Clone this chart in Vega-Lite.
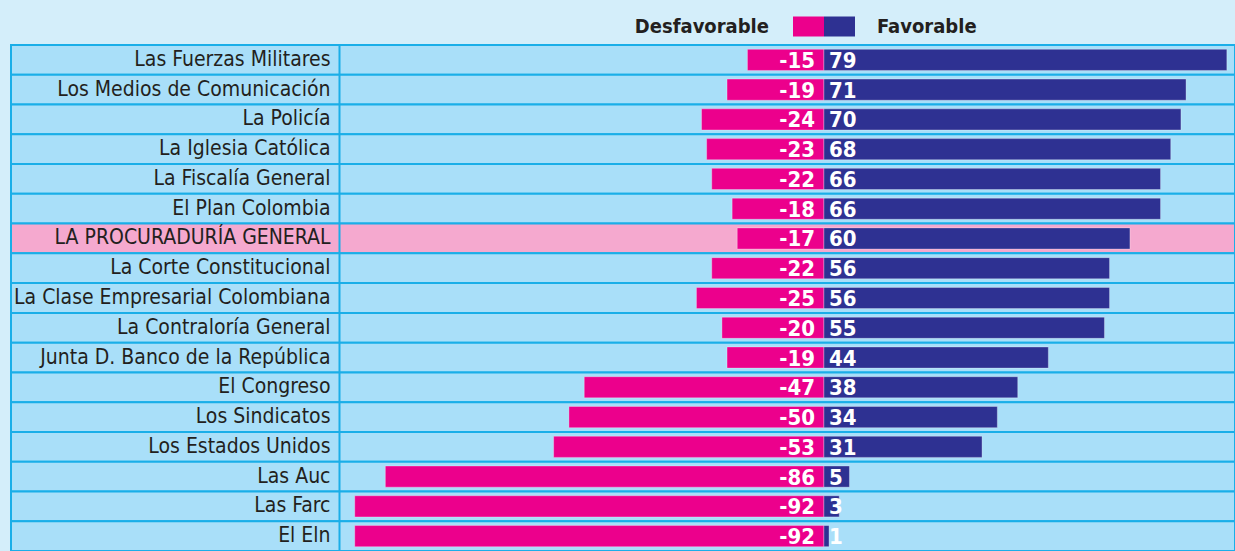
{
  "$schema": "https://vega.github.io/schema/vega-lite/v6.json",
  "autosize": {"type": "none"},
  "width": 1224,
  "height": 506,
  "padding": {"left": 11, "top": 45, "right": 0, "bottom": 0},
  "background": "#d4eefa",
  "config": {
    "view": {"stroke": null},
    "legend": {
      "title": null,
      "orient": "none",
      "direction": "horizontal",
      "padding": 0,
      "symbolType": "M-1,-0.645H1V0.645H-1Z",
      "symbolSize": 961,
      "symbolStrokeWidth": 0,
      "symbolOpacity": 1,
      "labelFont": "DejaVu Sans Condensed, sans-serif",
      "labelFontSize": 20,
      "labelFontWeight": "bold",
      "labelColor": "#231f20",
      "labelLimit": 0
    }
  },
  "data": {
    "values": [
      {"inst": "Las Fuerzas Militares", "Desfavorable": -15, "Favorable": 79},
      {"inst": "Los Medios de Comunicación", "Desfavorable": -19, "Favorable": 71},
      {"inst": "La Policía", "Desfavorable": -24, "Favorable": 70},
      {"inst": "La Iglesia Católica", "Desfavorable": -23, "Favorable": 68},
      {"inst": "La Fiscalía General", "Desfavorable": -22, "Favorable": 66},
      {"inst": "El Plan Colombia", "Desfavorable": -18, "Favorable": 66},
      {"inst": "LA PROCURADURÍA GENERAL", "Desfavorable": -17, "Favorable": 60},
      {"inst": "La Corte Constitucional", "Desfavorable": -22, "Favorable": 56},
      {"inst": "La Clase Empresarial Colombiana", "Desfavorable": -25, "Favorable": 56},
      {"inst": "La Contraloría General", "Desfavorable": -20, "Favorable": 55},
      {"inst": "Junta D. Banco de la República", "Desfavorable": -19, "Favorable": 44},
      {"inst": "El Congreso", "Desfavorable": -47, "Favorable": 38},
      {"inst": "Los Sindicatos", "Desfavorable": -50, "Favorable": 34},
      {"inst": "Los Estados Unidos", "Desfavorable": -53, "Favorable": 31},
      {"inst": "Las Auc", "Desfavorable": -86, "Favorable": 5},
      {"inst": "Las Farc", "Desfavorable": -92, "Favorable": 3},
      {"inst": "El Eln", "Desfavorable": -92, "Favorable": 1}
    ]
  },
  "encoding": {
    "y": {
      "field": "inst",
      "type": "nominal",
      "sort": null,
      "scale": {"paddingInner": 0, "paddingOuter": 0},
      "axis": {
        "title": null,
        "orient": "left",
        "offset": -328,
        "ticks": false,
        "grid": false,
        "domain": true,
        "domainColor": "#1aaee8",
        "domainWidth": 2,
        "labelPadding": 9,
        "labelFont": "DejaVu Sans Condensed, sans-serif",
        "labelFontSize": 21,
        "labelColor": "#231f20",
        "labelLimit": 0,
        "zindex": 1
      }
    }
  },
  "layer": [
    {
      "mark": {"type": "rect", "stroke": "#1aaee8", "strokeWidth": 2},
      "encoding": {
        "fill": {
          "condition": {"test": "datum.inst === 'LA PROCURADURÍA GENERAL'", "value": "#f5a9cf"},
          "value": "#a9dff9"
        }
      }
    },
    {
      "mark": {"type": "bar", "height": {"band": 0.71}, "stroke": "#ffffff", "strokeOpacity": 0.3, "strokeWidth": 1},
      "encoding": {
        "x": {
          "field": "Desfavorable",
          "type": "quantitative",
          "scale": {"domain": [-159.4, 80.6], "nice": false, "zero": false},
          "axis": null
        },
        "x2": {"datum": 0},
        "color": {
          "datum": "Desfavorable",
          "type": "nominal",
          "scale": {"domain": ["Desfavorable"], "range": ["#ec008c"]},
          "legend": {"legendX": 782, "legendY": -34, "labelAlign": "right", "labelOffset": -55}
        }
      }
    },
    {
      "mark": {"type": "bar", "height": {"band": 0.71}, "stroke": "#ffffff", "strokeOpacity": 0.3, "strokeWidth": 1},
      "encoding": {
        "x": {"field": "Favorable", "type": "quantitative", "axis": null},
        "x2": {"datum": 0},
        "fill": {
          "datum": "Favorable",
          "type": "nominal",
          "scale": {"domain": ["Favorable"], "range": ["#2e3192"]},
          "legend": {"legendX": 813, "legendY": -34, "labelAlign": "left", "labelOffset": 22}
        }
      }
    },
    {
      "mark": {"type": "text", "align": "right", "baseline": "middle", "dx": -9, "dy": 1, "font": "DejaVu Sans Condensed, sans-serif", "fontSize": 22, "fontWeight": "bold", "color": "#ffffff"},
      "encoding": {
        "x": {"datum": 0, "type": "quantitative", "axis": null},
        "text": {"field": "Desfavorable", "type": "nominal"}
      }
    },
    {
      "mark": {"type": "text", "align": "left", "baseline": "middle", "dx": 5, "dy": 1, "font": "DejaVu Sans Condensed, sans-serif", "fontSize": 22, "fontWeight": "bold", "color": "#ffffff"},
      "encoding": {
        "x": {"datum": 0, "type": "quantitative", "axis": null},
        "text": {"field": "Favorable", "type": "nominal"}
      }
    },
    {
      "mark": {"type": "rule", "color": "#1aaee8", "strokeWidth": 2},
      "encoding": {
        "x": {"datum": 0, "type": "quantitative", "axis": null}
      }
    }
  ]
}
